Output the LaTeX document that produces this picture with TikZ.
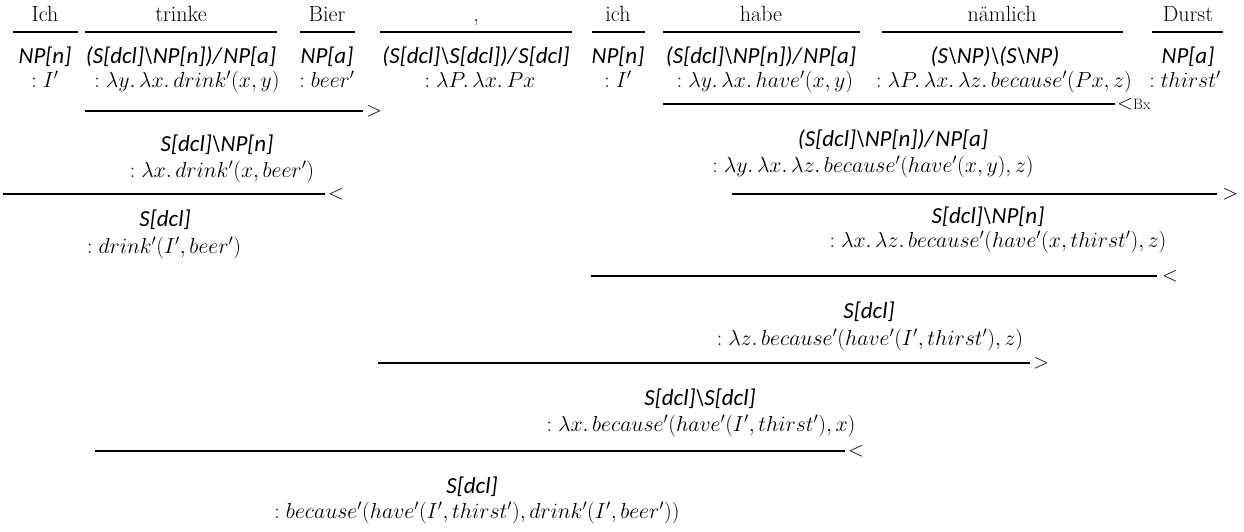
\RequirePackage{fix-cm}
\documentclass[tikz,border=0pt]{standalone}
\usepackage{fontspec}
\newfontfamily\catfont{Carlito}
\newcommand\bsl{\textbackslash}
\newcommand\sm[1]{$\mathord{:}\;#1$}
\newcommand\lmb[1]{\lambda #1.\,}
\tikzset{
  word/.style={font=\fontsize{22}{24}\selectfont, inner sep=0pt, anchor=base},
  cat/.style={font=\catfont\itshape\fontsize{23}{26}\selectfont, inner sep=0pt, anchor=base},
  sem/.style={font=\fontsize{21.8}{26}\selectfont, inner sep=0pt, anchor=base},
  rulel/.style={line width=1.6pt},
  op/.style={font=\fontsize{21}{24}\selectfont, inner sep=0pt, anchor=west},
}
\begin{document}
\begin{tikzpicture}[x=1pt,y=-1pt]
\useasboundingbox (0,0) rectangle (1244,531);
% words
\node[word] (w1) at (45,21) {Ich};
\node[word] (w2) at (181,21) {trinke};
\node[word] (w3) at (327,21) {Bier};
\node[word] (w4) at (476,21) {,};
\node[word] (w5) at (618,21) {ich};
\node[word] (w6) at (761,21) {habe};
\node[word] (w7) at (1002,21) {nämlich};
\node[word] (w8) at (1188,21) {Durst};
% word underlines
\foreach \n/\a/\b in {1/13/78,2/85/277,3/300/355,4/380/572,5/592/645,6/663/860,7/882/1123,8/1152/1223}{
  \coordinate (u\n a) at (\a,32); \coordinate (u\n b) at (\b,32);
  \draw[rulel] (u\n a) -- (u\n b);
}
% lexical categories
\node[cat] (c1) at (45,63) {NP[n]};
\node[sem] (s1) at (45,87) {\sm{I'}};
\node[cat] (c2) at (181,63) {(S[dcl]\bsl NP[n])/\kern2pt NP[a]};
\node[sem] (s2) at (187,87) {\sm{\lmb{y}\lmb{x}drink'(x,y)}};
\node[cat] (c3) at (327,63) {NP[a]};
\node[sem] (s3) at (327,87) {\sm{beer'}};
\node[cat] (c4) at (476,63) {(S[dcl]\bsl S[dcl])/\kern2pt S[dcl]};
\node[sem] (s4) at (480,87) {\sm{\lmb{P}\lmb{x}Px}};
\node[cat] (c5) at (618,63) {NP[n]};
\node[sem] (s5) at (618,87) {\sm{I'}};
\node[cat] (c6) at (761,63) {(S[dcl]\bsl NP[n])/\kern2pt NP[a]};
\node[sem] (s6) at (765,87) {\sm{\lmb{y}\lmb{x}have'(x,y)}};
\node[cat] (c7) at (995,63) {(S\bsl NP)\bsl(S\bsl NP)};
\node[sem] (s7) at (1004,87) {\sm{\lmb{P}\lmb{x}\lmb{z}because'(Px,z)}};
\node[cat] (c8) at (1188,63) {NP[a]};
\node[sem] (s8) at (1185,87) {\sm{thirst'}};
% R1: trinke Bier >
\coordinate (r1a) at (85,111); \coordinate (r1b) at (363,111);
\draw[rulel] (r1a) -- (r1b);
\node[op] (o1) at (366,111) {>};
\node[cat] (c9) at (217,151) {S[dcl]\bsl NP[n]};
\node[sem] (s9) at (222,177) {\sm{\lmb{x}drink'(x,beer')}};
% R3: Ich <
\coordinate (r3a) at (3,194); \coordinate (r3b) at (325,194);
\draw[rulel] (r3a) -- (r3b);
\node[op] (o3) at (328,194) {<};
\node[cat] (c10) at (165,226) {S[dcl]};
\node[sem] (s10) at (164,253) {\sm{drink'(I',beer')}};
% R2: habe naemlich <Bx
\coordinate (r2a) at (663,104); \coordinate (r2b) at (1115,104);
\draw[rulel] (r2a) -- (r2b);
\node[op] (o2) at (1117,104) {<{\fontsize{15}{18}\selectfont Bx}};
\node[cat] (c11) at (893,146) {(S[dcl]\bsl NP[n])/\kern2pt NP[a]};
\node[sem] (s11) at (873,172) {\sm{\lmb{y}\lmb{x}\lmb{z}because'(have'(x,y),z)}};
% R4: Durst >
\coordinate (r4a) at (732,194); \coordinate (r4b) at (1217,194);
\draw[rulel] (r4a) -- (r4b);
\node[op] (o4) at (1222,194) {>};
\node[cat] (c12) at (988,223) {S[dcl]\bsl NP[n]};
\node[sem] (s12) at (998,247) {\sm{\lmb{x}\lmb{z}because'(have'(x,thirst'),z)}};
% R5: ich <
\coordinate (r5a) at (591,276); \coordinate (r5b) at (1157,276);
\draw[rulel] (r5a) -- (r5b);
\node[op] (o5) at (1162,276) {<};
\node[cat] (c13) at (869,318) {S[dcl]};
\node[sem] (s13) at (870,345) {\sm{\lmb{z}because'(have'(I',thirst'),z)}};
% R6: comma >
\coordinate (r6a) at (378,363); \coordinate (r6b) at (1030,363);
\draw[rulel] (r6a) -- (r6b);
\node[op] (o6) at (1033,363) {>};
\node[cat] (c14) at (700,405) {S[dcl]\bsl S[dcl]};
\node[sem] (s14) at (701,431) {\sm{\lmb{x}because'(have'(I',thirst'),x)}};
% R7: final <
\coordinate (r7a) at (95,451); \coordinate (r7b) at (845,451);
\draw[rulel] (r7a) -- (r7b);
\node[op] (o7) at (848,451) {<};
\node[cat] (c15) at (472,493) {S[dcl]};
\node[sem] (s15) at (477,518) {\sm{because'(have'(I',thirst'),drink'(I',beer'))}};
\end{tikzpicture}
\end{document}
